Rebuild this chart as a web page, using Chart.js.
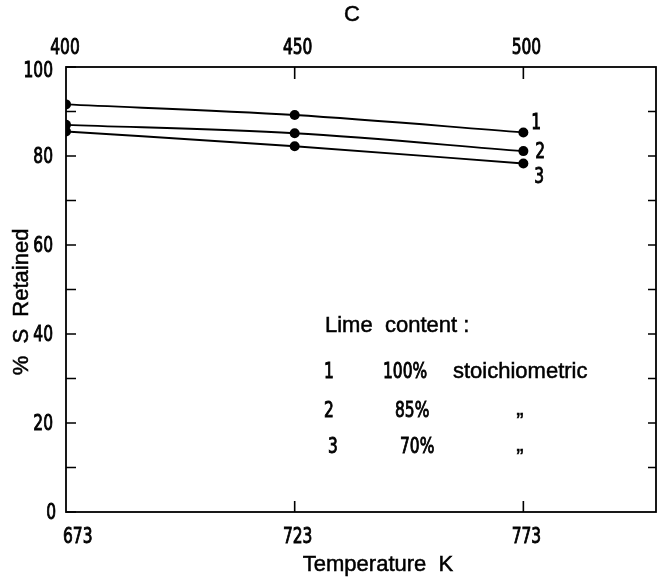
<!DOCTYPE html>
<html><head><meta charset="utf-8">
<script src="https://cdn.jsdelivr.net/npm/chart.js@4.4.1/dist/chart.umd.min.js"></script>
<style>html,body{margin:0;padding:0;background:#fff}canvas{display:block}</style>
</head><body>
<canvas id="c" width="662" height="577"></canvas>
<script>
// ---- data ----
const temperaturesK = [673, 723, 773];
const series1 = [91.6, 89.2, 85.3];   // 100% stoichiometric
const series2 = [87.0, 85.1, 81.1];   // 85%
const series3 = [85.5, 82.2, 78.3];   // 70%
const seriesNames = ['1', '2', '3'];
const kelvinTicks = [673, 723, 773];
const celsiusTicks = [400, 450, 500];
const yLabelTicks = [0, 20, 40, 60, 80, 100];
const yMarkTicks = [0, 10, 20, 30, 40, 50, 60, 70, 80, 90, 100];
const xTitle = 'Temperature  K';
const x2Title = 'C';
const yTitle = '%  S  Retained';
const legendTitle = 'Lime  content :';
const legendNums = ['1', '2', '3'];
const legendPcts = ['100%', '85%', '70%'];
const legendDescs = ['stoichiometric', '\u201E', '\u201E'];

const TEXT_FONT = "'Liberation Sans', Arial, sans-serif";
const NUM_FONT = "'DejaVu Sans Condensed', 'DejaVu Sans', sans-serif";

const toPts = arr => temperaturesK.map((t, i) => ({ x: t, y: arr[i] }));
const mkSet = (label, arr) => ({
  label, data: toPts(arr), xAxisID: 'x', yAxisID: 'y',
  borderColor: '#000', backgroundColor: '#000', borderWidth: 1.9,
  pointRadius: 5, pointBackgroundColor: '#000', pointBorderColor: '#000', pointBorderWidth: 0,
  cubicInterpolationMode: 'monotone', fill: false
});

function num(ctx, text, x, y, align) {
  ctx.save();
  ctx.font = "22px " + NUM_FONT;
  ctx.textBaseline = 'middle';
  ctx.textAlign = align;
  ctx.translate(x, y);
  ctx.scale(0.78, 1);
  ctx.lineWidth = 0.9;
  ctx.strokeStyle = '#000';
  ctx.fillText(text, 0, 0);
  ctx.strokeText(text, 0, 0);
  ctx.restore();
}
function txt(ctx, text, x, y, align, rot) {
  ctx.save();
  ctx.font = "22px " + TEXT_FONT;
  ctx.textBaseline = 'middle';
  ctx.textAlign = align;
  ctx.translate(x, y);
  if (rot) ctx.rotate(rot);
  ctx.lineWidth = 0.5;
  ctx.strokeStyle = '#000';
  ctx.fillText(text, 0, 0);
  ctx.strokeText(text, 0, 0);
  ctx.restore();
}

const decor = {
  id: 'decor',
  afterDraw(chart) {
    const { ctx, chartArea: a, scales } = chart;
    const x = scales.x, x2 = scales.x2, y = scales.y;
    ctx.save();
    ctx.strokeStyle = '#000';
    ctx.fillStyle = '#000';
    ctx.lineWidth = 1.8;
    ctx.strokeRect(a.left, a.top, a.right - a.left, a.bottom - a.top);
    ctx.lineWidth = 1.6;
    ctx.beginPath();
    yMarkTicks.forEach(v => {
      const py = y.getPixelForValue(v);
      ctx.moveTo(a.left, py); ctx.lineTo(a.left + 10, py);
      if (v > 0 && v < 100) { ctx.moveTo(a.right, py); ctx.lineTo(a.right - 8, py); }
    });
    kelvinTicks.slice(1).forEach(v => {
      const px = x.getPixelForValue(v);
      ctx.moveTo(px, a.bottom); ctx.lineTo(px, a.bottom - 11);
    });
    celsiusTicks.slice(1).forEach(v => {
      const px = x2.getPixelForValue(v);
      ctx.moveTo(px, a.top); ctx.lineTo(px, a.top + 12);
    });
    ctx.stroke();
    ctx.fillStyle = '#000';

    // tick labels
    yLabelTicks.forEach(v => {
      const py = y.getPixelForValue(v);
      num(ctx, String(v), a.left - 13 + (v === 0 ? 3 : 0), py + (v === 100 ? 4 : 1), 'right');
    });
    kelvinTicks.forEach((v, i) => {
      const px = x.getPixelForValue(v);
      if (i === 0) num(ctx, String(v), px - 3, a.bottom + 25, 'left');
      else num(ctx, String(v), px + 3, a.bottom + 25, 'center');
    });
    celsiusTicks.forEach((v, i) => {
      const px = x2.getPixelForValue(v);
      num(ctx, String(v), px + (i === 0 ? -1 : 3), a.top - 19, 'center');
    });

    // axis titles
    txt(ctx, xTitle, 378, a.bottom + 53, 'center');
    txt(ctx, x2Title, 352, 15, 'center');
    txt(ctx, yTitle, 22, 302, 'center', -Math.PI / 2);

    // series end labels
    const offs = [[8, -9], [12, 1], [11, 14]];
    chart.data.datasets.forEach((ds, i) => {
      const meta = chart.getDatasetMeta(i);
      const p = meta.data[meta.data.length - 1];
      num(ctx, seriesNames[i], p.x + offs[i][0], p.y + offs[i][1], 'left');
    });

    // legend block
    txt(ctx, legendTitle, 325, 326, 'left');
    const rows = [372, 411, 447];
    const pctX = [383, 395, 400];
    const numX = [324, 324, 328];
    rows.forEach((ry, i) => {
      num(ctx, legendNums[i], numX[i], ry, 'left');
      num(ctx, legendPcts[i], pctX[i], ry, 'left');
      if (i === 0) txt(ctx, legendDescs[i], 453, ry, 'left');
      else txt(ctx, legendDescs[i], 520, ry - 2, 'center');
    });
    ctx.restore();
  }
};

new Chart(document.getElementById('c'), {
  type: 'line',
  data: {
    datasets: [mkSet(seriesNames[0], series1), mkSet(seriesNames[1], series2), mkSet(seriesNames[2], series3)]
  },
  options: {
    responsive: false,
    animation: false,
    layout: { padding: { right: 6 } },
    plugins: { legend: { display: false }, tooltip: { enabled: false } },
    scales: {
      x: {
        type: 'linear', position: 'bottom', min: 673, max: 802,
        ticks: { display: false }, grid: { display: false, drawTicks: false }, border: { display: false },
        afterFit: s => { s.height = 65; }
      },
      x2: {
        type: 'linear', position: 'top', min: 400, max: 529,
        ticks: { display: false }, grid: { display: false, drawTicks: false }, border: { display: false },
        afterFit: s => { s.height = 67; }
      },
      y: {
        type: 'linear', position: 'left', min: 0, max: 100,
        ticks: { display: false, stepSize: 20 },
        grid: { display: false, drawTicks: false }, border: { display: false },
        afterFit: s => { s.width = 66; }
      }
    }
  },
  plugins: [decor]
});
</script>
</body></html>
